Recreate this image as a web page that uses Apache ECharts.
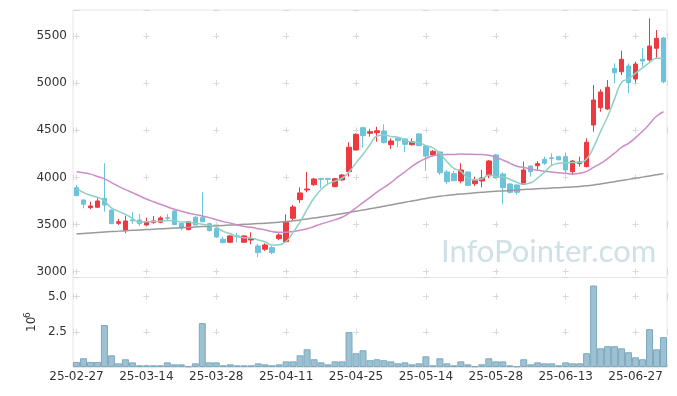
<!DOCTYPE html>
<html><head><meta charset="utf-8">
<script src="https://cdn.jsdelivr.net/npm/echarts@6/dist/echarts.min.js"></script>
<style>html,body{margin:0;padding:0;background:#fff}#c{width:677px;height:396px}</style>
</head><body><div id="c"></div>
<script>
const dates = ['25-02-27','25-02-28','25-03-04','25-03-05','25-03-06','25-03-07','25-03-10','25-03-11','25-03-12','25-03-13',
'25-03-14','25-03-17','25-03-18','25-03-19','25-03-20','25-03-21','25-03-24','25-03-25','25-03-26','25-03-27',
'25-03-28','25-03-31','25-04-01','25-04-02','25-04-03','25-04-04','25-04-07','25-04-08','25-04-09','25-04-10',
'25-04-11','25-04-14','25-04-15','25-04-16','25-04-17','25-04-18','25-04-21','25-04-22','25-04-23','25-04-24',
'25-04-25','25-04-28','25-04-29','25-04-30','25-05-02','25-05-07','25-05-08','25-05-09','25-05-12','25-05-13',
'25-05-14','25-05-15','25-05-16','25-05-19','25-05-20','25-05-21','25-05-22','25-05-23','25-05-26','25-05-27',
'25-05-28','25-05-29','25-05-30','25-06-02','25-06-04','25-06-05','25-06-09','25-06-10','25-06-11','25-06-12',
'25-06-13','25-06-16','25-06-17','25-06-18','25-06-19','25-06-20','25-06-23','25-06-24','25-06-25','25-06-26',
'25-06-27','25-06-30','25-07-01','25-07-02','25-07-03'];

const openP = [3891,3760,3679,3683,3778,3654,3513,3435,3550,3548,
3495,3520,3524,3573,3644,3513,3446,3577,3573,3509,
3456,3344,3312,3380,3312,3336,3273,3238,3255,3350,
3318,3566,3764,3867,3923,3989,3989,3902,3973,4061,
4291,4527,4468,4474,4492,4347,4415,4408,4347,4461,
4333,4238,4270,4058,4040,3962,4058,3933,3962,4018,
4238,4036,3930,3920,3927,4121,4124,4192,4208,4220,
4220,4061,4146,4114,4556,4740,4726,5157,5121,5182,
5044,5253,5246,5370,5479];
const highP = [3920,3768,3742,3778,4150,3660,3559,3594,3633,3612,
3573,3591,3588,3612,3650,3515,3535,3591,3842,3520,
3460,3371,3390,3414,3385,3418,3294,3301,3273,3407,
3609,3708,3895,4058,3994,3990,3990,3995,4036,4373,
4468,4538,4514,4538,4563,4415,4432,4415,4415,4470,
4340,4291,4275,4079,4071,4150,4060,4008,4079,4185,
4250,4054,3940,3925,4167,4125,4174,4220,4256,4230,
4262,4185,4220,4415,4980,4935,5033,5210,5344,5210,
5228,5370,5688,5564,5490];
const lowP = [3800,3672,3662,3680,3636,3505,3495,3407,3506,3485,
3488,3509,3514,3535,3495,3439,3440,3490,3525,3425,
3360,3301,3305,3312,3305,3291,3153,3220,3185,3336,
3315,3541,3729,3842,3909,3885,3930,3895,3962,4008,
4283,4315,4432,4379,4362,4302,4320,4267,4337,4330,
4071,4220,4026,3930,3959,3938,3910,3909,3895,3991,
3985,3715,3830,3817,3920,4008,4071,4132,4132,4178,
4036,4026,4114,4107,4485,4697,4716,4998,5086,4892,
5005,5174,5228,5264,4998];
const closeP = [3806,3715,3697,3750,3707,3509,3530,3538,3540,3509,
3530,3538,3570,3566,3499,3464,3530,3495,3530,3435,
3368,3308,3379,3370,3379,3350,3202,3283,3202,3389,
3524,3686,3835,3877,3983,3980,3980,3986,4026,4320,
4457,4443,4485,4495,4368,4386,4390,4351,4379,4337,
4227,4277,4050,3955,3965,4079,3916,3965,3994,4174,
3997,3891,3842,3842,4079,4061,4146,4150,4200,4188,
4079,4174,4164,4373,4821,4906,4956,5111,5253,5005,
5203,5235,5394,5476,5015];
const volume = [360000,620000,360000,360000,2980000,830000,260000,550000,330000,120000,
120000,120000,120000,330000,190000,190000,50000,260000,3120000,330000,
330000,120000,190000,120000,120000,120000,260000,190000,120000,190000,
400000,400000,830000,1260000,550000,330000,190000,400000,400000,2480000,
980000,1190000,480000,550000,480000,400000,260000,330000,190000,260000,
760000,120000,620000,260000,120000,400000,190000,50000,190000,620000,
400000,400000,120000,50000,550000,190000,330000,260000,260000,120000,
330000,260000,260000,980000,5790000,1330000,1480000,1480000,1330000,1050000,
690000,550000,2690000,1260000,2120000];
const ma5 = [3880,3840,3810,3790,3750,3676,3639,3607,3565,3525,
3529,3531,3537,3543,3541,3527,3526,3511,3504,3491,
3472,3427,3404,3372,3361,3357,3336,3317,3283,3285,
3320,3417,3527,3662,3781,3872,3931,3961,3991,4058,
4154,4246,4346,4440,4450,4435,4425,4398,4375,4369,
4337,4314,4254,4169,4095,4065,3993,3976,3984,4026,
4009,4004,3980,3949,3930,3943,3994,4056,4127,4149,
4153,4158,4161,4196,4322,4488,4644,4833,5009,5046,
5106,5161,5218,5263,5265];
const ma20 = [4060,4050,4035,4010,3985,3945,3905,3870,3838,3805,
3771,3742,3715,3688,3662,3640,3622,3605,3590,3573,
3551,3531,3515,3496,3479,3471,3455,3442,3425,3419,
3419,3426,3440,3455,3479,3505,3528,3552,3577,3621,
3676,3733,3788,3844,3894,3945,4005,4058,4117,4164,
4200,4229,4240,4244,4243,4248,4245,4244,4242,4235,
4212,4184,4152,4119,4105,4089,4076,4066,4057,4050,
4043,4037,4043,4064,4107,4148,4200,4257,4320,4362,
4422,4489,4567,4649,4696];
const ma120 = [3400,3405,3410,3415,3420,3425,3430,3434,3438,3442,
3446,3450,3454,3458,3462,3466,3470,3474,3478,3482,
3486,3490,3494,3498,3502,3506,3510,3514,3519,3525,
3532,3540,3549,3559,3569,3580,3591,3603,3615,3628,
3641,3654,3667,3680,3694,3708,3722,3736,3750,3764,
3777,3789,3800,3809,3817,3824,3830,3836,3842,3847,
3852,3857,3862,3867,3871,3875,3879,3883,3887,3891,
3895,3899,3904,3911,3920,3931,3943,3955,3967,3979,
3991,4003,4015,4027,4040];

const candleData = dates.map((d, i) => [openP[i], closeP[i], lowP[i], highP[i]]);
const FONT = 'DejaVu Sans';
const crossColor = '#d9d9d9';
const chart = echarts.init(document.getElementById('c'), null, {renderer: 'canvas'});
chart.setOption({
  animation: false,
  backgroundColor: '#fff',
  textStyle: {fontFamily: FONT},
  grid: [
    {left: 73, right: 10, top: 10, height: 267.5, show: true, borderColor: '#e6e6e6', borderWidth: 1},
    {left: 73, right: 10, top: 277.5, height: 89.5, show: true, borderColor: '#e6e6e6', borderWidth: 1}
  ],
  xAxis: [
    {type: 'category', gridIndex: 0, data: dates, boundaryGap: true,
     axisLine: {show: false}, axisTick: {show: false}, axisLabel: {show: false}, splitLine: {show: false}},
    {type: 'category', gridIndex: 1, data: dates, boundaryGap: true,
     axisLine: {show: true, lineStyle: {color: '#e6e6e6'}}, axisTick: {show: false},
     axisLabel: {interval: 9, margin: 4, fontSize: 12, color: '#333', fontFamily: FONT},
     splitLine: {show: false}},
    {type: 'value', gridIndex: 0, min: -0.5, max: 84.5, splitNumber: 8, minInterval: 10, maxInterval: 10,
     axisLine: {show: false}, axisTick: {show: false}, axisLabel: {show: false},
     splitLine: {show: true, lineStyle: {color: crossColor, width: 1, type: [6, 41.13], dashOffset: 24.13}}},
    {type: 'value', gridIndex: 1, min: -0.5, max: 84.5, splitNumber: 8, minInterval: 10, maxInterval: 10,
     axisLine: {show: false}, axisTick: {show: false}, axisLabel: {show: false},
     splitLine: {show: true, lineStyle: {color: crossColor, width: 1, type: [6, 29.18], dashOffset: 19.08}}}
  ],
  yAxis: [
    {type: 'value', gridIndex: 0, min: 2938, max: 5776, splitNumber: 5, minInterval: 500, maxInterval: 500,
     axisLine: {show: false}, axisTick: {show: false},
     axisLabel: {margin: 6, fontSize: 12, color: '#333', fontFamily: FONT, showMinLabel: false, showMaxLabel: false,
       formatter: v => (v % 500 === 0 ? String(v) : '')},
     splitLine: {show: true, lineStyle: {color: crossColor, width: 1, type: [6, 63.88], dashOffset: 69.38}}},
    {type: 'value', gridIndex: 1, min: 0, max: 6360000, interval: 2500000,
     axisLine: {show: false}, axisTick: {show: false},
     axisLabel: {margin: 6, fontSize: 12, color: '#333', fontFamily: FONT, showMinLabel: false, showMaxLabel: false,
       formatter: v => (v > 0 && v % 2500000 === 0 ? (v / 1e6).toFixed(1) : '')},
     splitLine: {show: true, lineStyle: {color: crossColor, width: 1, type: [6, 63.88], dashOffset: 69.38}}}
  ],
  graphic: [
    {type: 'text', x: 441, y: 236, z: 0, silent: true,
     style: {text: 'InfoPointer.com', font: '31px Lato', fill: 'rgba(165,198,214,0.55)'}},
    {type: 'text', x: 38, y: 332, rotation: Math.PI / 2, silent: true,
     style: {text: '10', font: '12px "DejaVu Sans"', fill: '#333', textAlign: 'left', textVerticalAlign: 'bottom'}},
    {type: 'text', x: 32, y: 318, rotation: Math.PI / 2, silent: true,
     style: {text: '6', font: '9px "DejaVu Sans"', fill: '#333', textAlign: 'left', textVerticalAlign: 'bottom'}}
  ],
  series: [
    {type: 'candlestick', xAxisIndex: 0, yAxisIndex: 0, data: candleData, barWidth: 5,
     itemStyle: {color: '#ec3a40', color0: '#6cc3da', borderColor: '#ec3a40', borderColor0: '#6cc3da', borderWidth: 1}},
    {type: 'line', xAxisIndex: 0, yAxisIndex: 0, data: ma120, symbol: 'none', smooth: true,
     lineStyle: {color: '#9a9a9a', width: 1.5}},
    {type: 'line', xAxisIndex: 0, yAxisIndex: 0, data: ma20, symbol: 'none', smooth: true,
     lineStyle: {color: '#cc8cc8', width: 1.5}},
    {type: 'line', xAxisIndex: 0, yAxisIndex: 0, data: ma5, symbol: 'none', smooth: true,
     lineStyle: {color: '#8fd0c6', width: 1.5}},
    {type: 'bar', xAxisIndex: 1, yAxisIndex: 1, data: volume, barCategoryGap: '0%',
     itemStyle: {color: '#9cc1d2', borderColor: '#7ea8bd', borderWidth: 1}}
  ]
});
</script>
</body></html>
